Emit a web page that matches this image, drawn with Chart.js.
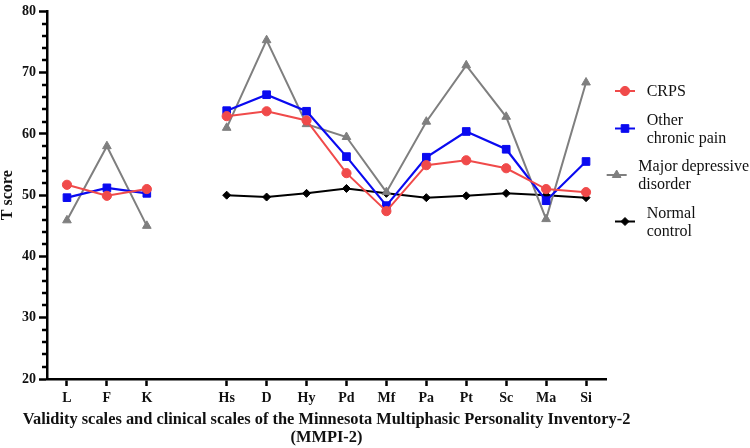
<!DOCTYPE html>
<html>
<head>
<meta charset="utf-8">
<script src="https://cdn.jsdelivr.net/npm/chart.js@4/dist/chart.umd.min.js"></script>
<style>
  html, body { margin: 0; padding: 0; background: #fff; }
  #wrap { width: 750px; height: 448px; position: relative; }
  .pre { font-family: 'Liberation Serif'; position: absolute; left: -9999px; }
</style>
</head>
<body>
<span class="pre">a</span><span class="pre" style="font-weight:bold">a</span>
<div id="wrap"><canvas id="c" width="750" height="448"></canvas></div>
<script>
// ---- data ----
const categories = ['L', 'F', 'K', '', 'Hs', 'D', 'Hy', 'Pd', 'Mf', 'Pa', 'Pt', 'Sc', 'Ma', 'Si'];
const crps        = [51.7, 49.9, 51.0, null, 62.9, 63.7, 62.2, 53.6, 47.4, 54.9, 55.7, 54.4, 51.0, 50.5];
const otherPain   = [49.6, 51.2, 50.3, null, 63.8, 66.4, 63.7, 56.3, 48.3, 56.2, 60.4, 57.5, 49.1, 55.5];
const depressive  = [45.9, 58.0, 45.0, null, 61.0, 75.3, 61.6, 59.5, 50.5, 62.0, 71.2, 62.8, 46.1, 68.4];
const normal      = [null, null, null, null, 50.0, 49.7, 50.3, 51.1, 50.3, 49.6, 49.9, 50.3, 50.0, 49.6];
const seriesLabels = [['CRPS'], ['Other', 'chronic pain'], ['Major depressive', 'disorder'], ['Normal', 'control']];
const xTitleLines = ['Validity scales and clinical scales of the Minnesota Multiphasic Personality Inventory-2', '(MMPI-2)'];
const yTickValues = [20, 30, 40, 50, 60, 70, 80];

const SERIF = "'Liberation Serif', serif";

function drawMarker(ctx, style, r, x, y, color) {
  ctx.save();
  ctx.fillStyle = color; ctx.strokeStyle = color; ctx.lineWidth = 1;
  ctx.beginPath();
  if (style === 'circle') {
    ctx.arc(x, y, r, 0, Math.PI * 2);
  } else if (style === 'rect') {
    const s = Math.SQRT1_2 * r;
    ctx.rect(x - s, y - s, 2 * s, 2 * s);
  } else if (style === 'triangle') {
    let a = 0;
    ctx.moveTo(x + Math.sin(a) * r, y - Math.cos(a) * r);
    a += 2 * Math.PI / 3;
    ctx.lineTo(x + Math.sin(a) * r, y - Math.cos(a) * r);
    a += 2 * Math.PI / 3;
    ctx.lineTo(x + Math.sin(a) * r, y - Math.cos(a) * r);
  } else if (style === 'rectRot') {
    ctx.moveTo(x - r, y); ctx.lineTo(x, y - r); ctx.lineTo(x + r, y); ctx.lineTo(x, y + r);
  }
  ctx.closePath();
  ctx.fill(); ctx.stroke();
  ctx.restore();
}

const sideLegend = {
  id: 'sideLegend',
  afterDraw(chart) {
    const ctx = chart.ctx;
    const W = chart.width;
    const lineLen = 20, textGap = 11.7, lineH = 18, itemGap = 10.5;
    let y = 91;
    ctx.save();
    ctx.font = "normal 400 16px " + SERIF;
    ctx.textBaseline = 'middle';
    ctx.textAlign = 'left';
    chart.data.datasets.forEach((ds, i) => {
      const lines = ds.legendLines;
      const h = lines.length * lineH;
      if (i > 0) y += h / 2;
      const tw = Math.max(...lines.map(t => ctx.measureText(t).width));
      const x0 = Math.min(615, W - 1 - (lineLen + textGap + tw));
      ctx.strokeStyle = ds.borderColor;
      ctx.lineWidth = 2;
      ctx.beginPath(); ctx.moveTo(x0, y); ctx.lineTo(x0 + lineLen, y); ctx.stroke();
      drawMarker(ctx, ds.pointStyle, ds.pointRadius, x0 + lineLen / 2, y, ds.pointBackgroundColor);
      ctx.fillStyle = '#111';
      lines.forEach((t, k) => {
        const ty = y - h / 2 + lineH / 2 + k * lineH;
        ctx.fillText(t, x0 + lineLen + textGap, ty + 1);
      });
      y += h / 2 + itemGap;
    });
    ctx.restore();
  }
};

const xTitle = {
  id: 'xTitle',
  afterDraw(chart) {
    const s = chart.scales.x;
    const ctx = chart.ctx;
    const cx = (chart.chartArea.left + chart.chartArea.right) / 2;
    ctx.save();
    ctx.font = "bold 16.4px " + SERIF;
    ctx.fillStyle = '#111';
    ctx.textAlign = 'center';
    ctx.textBaseline = 'middle';
    const lh = 18;
    xTitleLines.forEach((t, k) => {
      ctx.fillText(t, cx, s.bottom - 10 - (xTitleLines.length - 1 - k) * lh);
    });
    ctx.restore();
  }
};

const minorTicks = {
  id: 'minorTicks',
  afterDraw(chart) {
    const s = chart.scales.y;
    const ctx = chart.ctx;
    ctx.save();
    ctx.strokeStyle = '#000';
    ctx.lineWidth = 2.5;
    for (let v = s.min + 2; v < s.max; v += 2) {
      if (v % 10 === 0) continue;
      const py = Math.round(s.getPixelForValue(v));
      ctx.beginPath(); ctx.moveTo(s.right - 5, py); ctx.lineTo(s.right, py); ctx.stroke();
    }
    ctx.restore();
  }
};

const mk = (label, lines, data, color, style, r, bw) => ({
  label, legendLines: lines, data,
  borderColor: color, backgroundColor: color,
  pointBackgroundColor: color, pointBorderColor: color,
  pointStyle: style, pointRadius: r, pointHoverRadius: r, pointBorderWidth: 1,
  borderWidth: bw, tension: 0, spanGaps: false, clip: false
});

function build() {
  new Chart(document.getElementById('c'), {
    type: 'line',
    data: {
      labels: categories,
      datasets: [
        mk('CRPS', seriesLabels[0], crps, '#f04a4a', 'circle', 4.6, 2),
        mk('Other chronic pain', seriesLabels[1], otherPain, '#0a0af0', 'rect', 5.4, 2.2),
        mk('Major depressive disorder', seriesLabels[2], depressive, '#7f7f7f', 'triangle', 5, 2),
        mk('Normal control', seriesLabels[3], normal, '#000000', 'rectRot', 4, 2)
      ]
    },
    options: {
      responsive: false,
      animation: false,
      devicePixelRatio: 1,
      layout: { padding: { top: 6, right: 144, bottom: 0, left: 0 } },
      plugins: { legend: { display: false }, tooltip: { enabled: false } },
      scales: {
        x: {
          type: 'category',
          offset: true,
          grid: {
            display: true, drawOnChartArea: false, drawTicks: true,
            tickLength: 7, tickWidth: 2.5,
            tickColor: (c) => (c.tick && c.tick.label === '') ? 'rgba(0,0,0,0)' : '#000'
          },
          border: { display: true, color: '#000', width: 2.5 },
          ticks: {
            color: '#111', padding: 4, autoSkip: false, maxRotation: 0,
            font: { family: SERIF, size: 14, weight: 'bold' }
          },
          title: { display: false },
          afterFit: (s) => { s.height = 69; }
        },
        y: {
          min: 20, max: 80,
          afterBuildTicks: (s) => { s.ticks = yTickValues.map(v => ({ value: v })); },
          grid: {
            display: true, drawOnChartArea: false, drawTicks: true,
            tickLength: 8, tickWidth: 2.5, tickColor: '#000'
          },
          border: { display: true, color: '#000', width: 2.5 },
          ticks: {
            color: '#111', padding: 3,
            font: { family: SERIF, size: 14, weight: 'bold' }
          },
          title: {
            display: true, text: 'T score', color: '#111',
            font: { family: SERIF, size: 16, weight: 'bold', lineHeight: 1 },
            padding: { top: 0, bottom: 0 }
          },
          afterFit: (s) => { s.width = 47; }
        }
      }
    },
    plugins: [minorTicks, xTitle, sideLegend]
  });
}

Promise.all([
  document.fonts.load("16px 'Liberation Serif'"),
  document.fonts.load("bold 16px 'Liberation Serif'")
]).then(build, build);
</script>
</body>
</html>
